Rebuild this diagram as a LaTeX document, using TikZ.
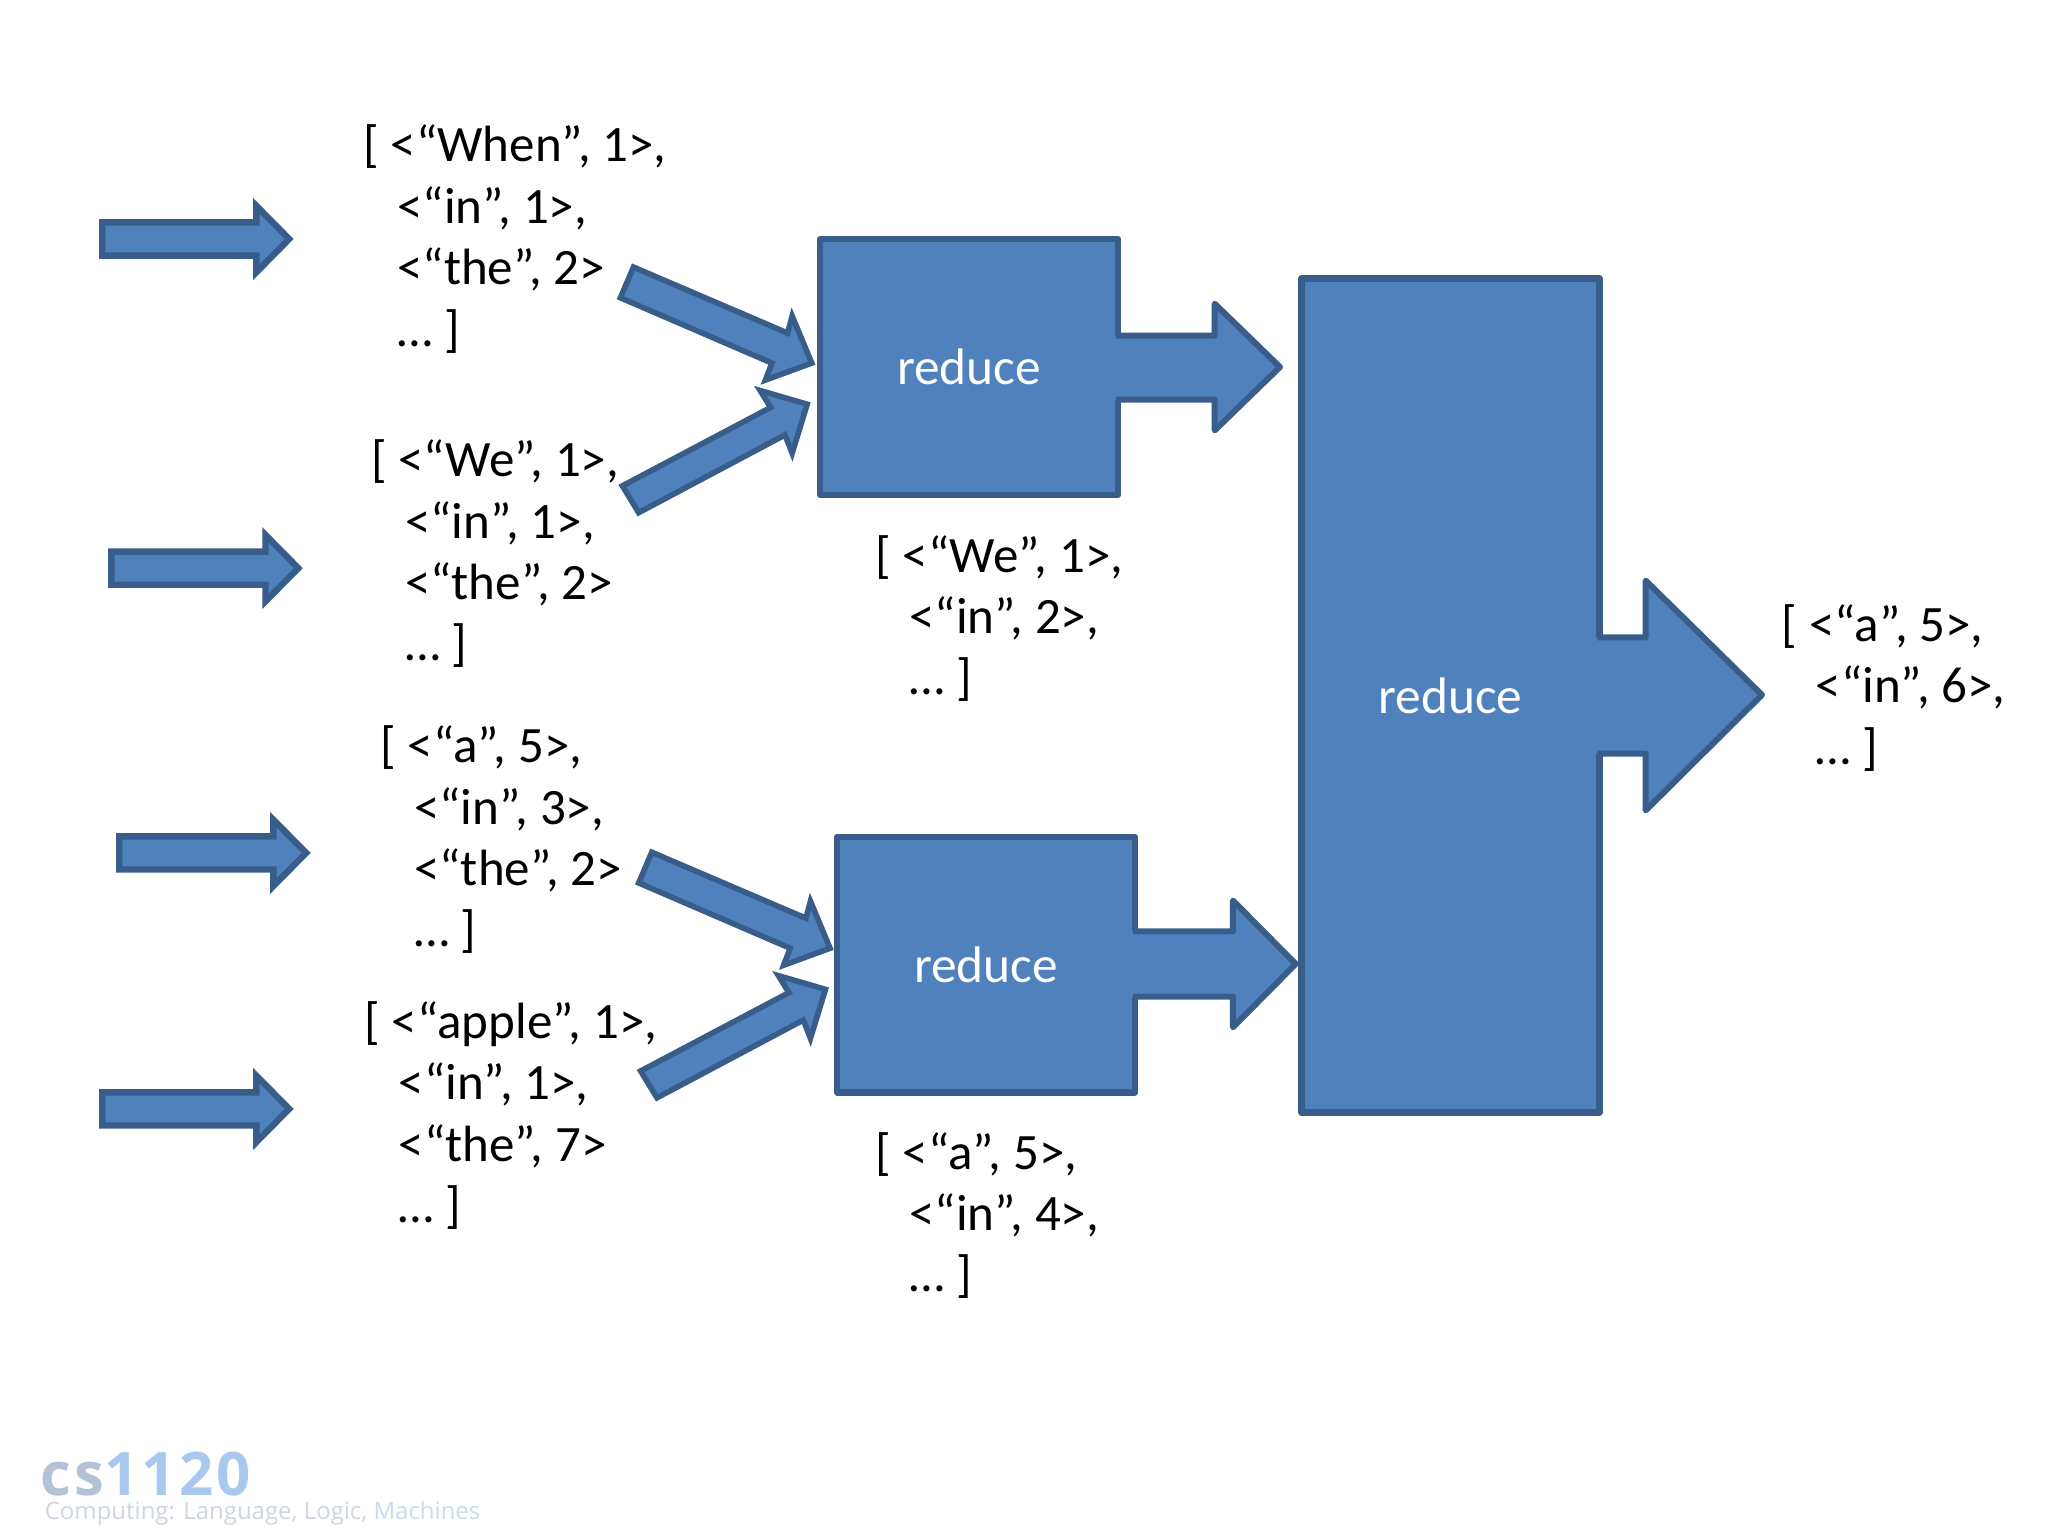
\documentclass[tikz,border=0pt]{standalone}
\usepackage{fontspec}
\setmainfont{Carlito}
\newfontfamily\logofont{Open Sans}
\newfontfamily\logospaced[LetterSpace=5]{Open Sans}
\newcommand{\blockfont}{\fontsize{25.5}{30.7}\selectfont}
\newcommand{\rightarrowshape}[8]{%
  % x0 ytop ybot xhead yheadtop yheadbot xtip ymid
  \fill[arrowfill] ({#1-2},#2) -- (#4,#2) -- (#4,#5) -- (#7,#8) -- (#4,#6) -- (#4,#3) -- ({#1-2},#3) -- cycle;
  \draw[arrowline,line join=round] (#1,#2) -- (#4,#2) -- (#4,#5) -- (#7,#8) -- (#4,#6) -- (#4,#3) -- (#1,#3);
}
\newcommand{\sidearrow}[2]{%
  \draw[sidearrowstyle] ({78.3+#1},{170.3+#2}) -- ({196.3+#1},{170.3+#2}) -- ({196.3+#1},{157.6+#2}) -- ({221.4+#1},{183+#2}) -- ({196.3+#1},{208.4+#2}) -- ({196.3+#1},{195.7+#2}) -- ({78.3+#1},{195.7+#2}) -- cycle;
}
\definecolor{shapefill}{HTML}{4F81BD}
\definecolor{shapeline}{HTML}{385D8A}
\tikzset{
  arrowfill/.style={fill=shapefill},
  arrowline/.style={draw=shapeline,line width=3pt},
  sidearrowstyle/.style={fill=shapefill,draw=shapeline,line width=3.2pt,line join=miter,miter limit=8},
  diagarrow/.style={fill=shapefill,draw=shapeline,line width=2.8pt,line join=miter,miter limit=8},
  reducebox/.style={draw=shapeline,fill=shapefill,line width=3.2pt,line join=round,text=white,font=\fontsize{25.7}{30}\selectfont,inner sep=0pt,anchor=center,minimum width=148.9pt},
  listing/.style={anchor=north west,align=left,inner sep=0pt,font=\blockfont,text=black},
}
\newcommand{\ind}{\hspace*{16.9pt}}
\newcommand{\reducelabel}{\raisebox{-0.7pt}{reduce}}
\begin{document}
\begin{tikzpicture}[x=0.6531pt,y=-0.6531pt]
\useasboundingbox (0,0) rectangle (1568,1176);
\fill[white] (0,0) rectangle (1568,1176);
% left arrows
\sidearrow{0}{0}
\sidearrow{7}{252}
\sidearrow{13}{470}
\sidearrow{0}{666}
% diagonal arrows
\draw[diagarrow] (485,204.5) -- (603,255) -- (606.5,242) -- (621.5,278) -- (586,291) -- (591,278) -- (475,228) -- cycle;
\draw[diagarrow] (476.5,372) -- (590,312) -- (582,299) -- (618,309.5) -- (606.5,347) -- (601,333) -- (489,392.5) -- cycle;
\begin{scope}[shift={(14,448)}]
\draw[diagarrow] (485,204.5) -- (603,255) -- (606.5,242) -- (621.5,278) -- (586,291) -- (591,278) -- (475,228) -- cycle;
\draw[diagarrow] (476.5,372) -- (590,312) -- (582,299) -- (618,309.5) -- (606.5,347) -- (601,333) -- (489,392.5) -- cycle;
\end{scope}
% boxes
\node[reducebox,minimum height=127.8pt] (r1) at (742,281) {\reducelabel};
\node[reducebox,minimum height=127.8pt] (r2) at (755,738.5) {\reducelabel};
\node[reducebox,minimum height=417pt] (r3) at (1110.5,532.5) {\reducelabel};
% box arrows
\rightarrowshape{854.5}{257}{306}{930}{232.5}{329.5}{980}{281}
\rightarrowshape{867.5}{713}{763}{944}{689.5}{786.5}{992}{738}
\rightarrowshape{1223}{488}{577}{1260}{444.5}{620.5}{1349}{532}
% lists
\node[listing] (l1) at (278,95.5) {[ <“When”, 1>,\\\ind<“in”, 1>,\\\ind<“the”, 2>\\\ind… ]};
\node[listing] (l2) at (284,336.5) {[ <“We”, 1>,\\\ind<“in”, 1>,\\\ind<“the”, 2>\\\ind… ]};
\node[listing] (l3) at (291,555.5) {[ <“a”, 5>,\\\ind<“in”, 3>,\\\ind<“the”, 2>\\\ind… ]};
\node[listing] (l4) at (279,766.5) {[ <“apple”, 1>,\\\ind<“in”, 1>,\\\ind<“the”, 7>\\\ind… ]};
\node[listing] (l5) at (670,409.5) {[ <“We”, 1>,\\\ind<“in”, 2>,\\\ind… ]};
\node[listing] (l6) at (670,866.5) {[ <“a”, 5>,\\\ind<“in”, 4>,\\\ind… ]};
\node[listing] (l7) at (1364,462.5) {[ <“a”, 5>,\\\ind<“in”, 6>,\\\ind… ]};
% logo
\node[anchor=base west,inner sep=0pt,font=\logospaced\fontsize{30}{30}\selectfont\bfseries] (logo) at (31,1145) {\textcolor[HTML]{B4C2D8}{cs}\textcolor[HTML]{A9C8F0}{1120}};
\node[anchor=base west,inner sep=0pt,font=\logofont\fontsize{12}{12}\selectfont] (tag) at (34,1163) {\textcolor[HTML]{CFD5DF}{Computing: Language, Logic,} \textcolor[HTML]{CADBF0}{Machines}};
\end{tikzpicture}
\end{document}
